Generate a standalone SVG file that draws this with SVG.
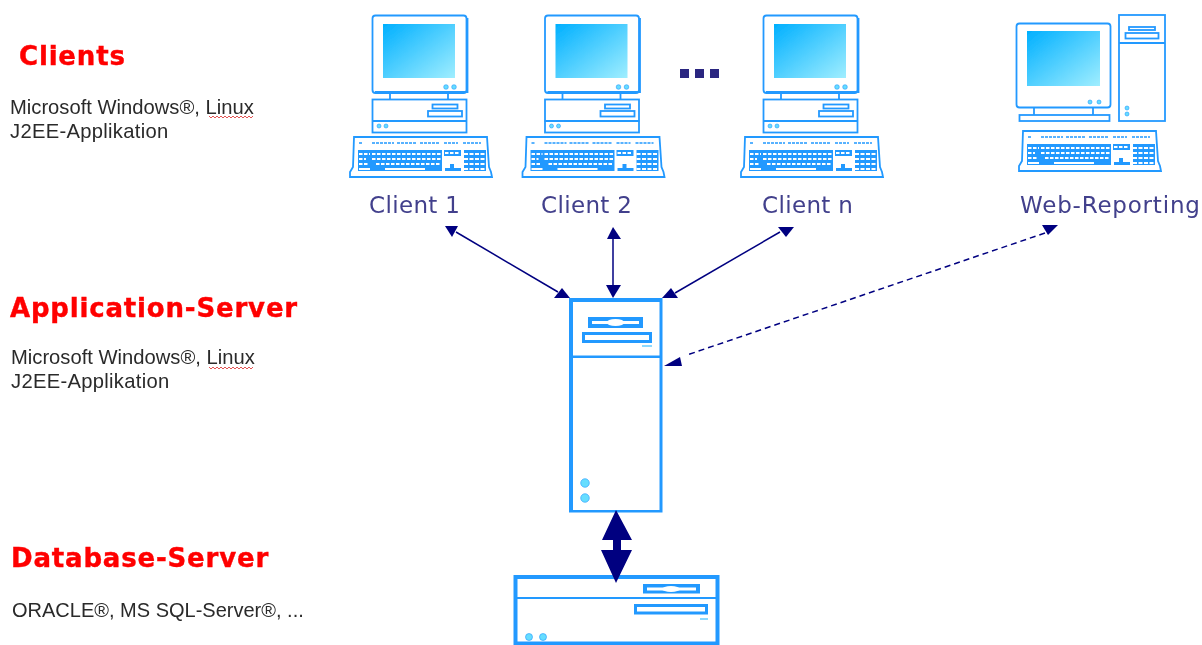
<svg xmlns="http://www.w3.org/2000/svg" xmlns:xlink="http://www.w3.org/1999/xlink" width="1202" height="645" viewBox="0 0 1202 645">
<style>
.b{fill:none;stroke:#2299ff;stroke-width:1.8}
.sb{fill:#2299ff}
.lt{fill:#66ddff;stroke:#2299ff;stroke-width:.6}
.k{stroke:#fff;stroke-width:2.2;fill:none}
.lbl{font-family:"DejaVu Sans",Verdana,sans-serif;font-size:23px;fill:#42408c;letter-spacing:.35px}
.h{font-family:"DejaVu Sans","Liberation Sans",sans-serif;font-weight:700;font-size:26px;fill:#ff0000;stroke:#ff0000;stroke-width:.4;letter-spacing:.82px}
.t{font-family:"Liberation Sans",Arial,sans-serif;font-size:20.200px;fill:#2a2a2a}
.j{letter-spacing:.3px}
.ar{fill:#000080}
.ln{stroke:#000080;stroke-width:1.500;fill:none}
.sq{fill:none;stroke:#e04040;stroke-width:.9}
</style>
<defs>
<linearGradient id="scr" x1="0" y1="0" x2="1" y2="1"><stop offset="0" stop-color="#00b0ff"/><stop offset="1" stop-color="#a0eeff"/></linearGradient>
<filter id="soft" x="-5%" y="-5%" width="110%" height="110%"><feGaussianBlur stdDeviation=".4"/></filter>
<filter id="tsoft" x="-5%" y="-20%" width="110%" height="140%"><feGaussianBlur stdDeviation=".35"/></filter>
<g id="kbd">
<path class="b" d="M354 137H487L489 167L491 172L492 177H350L350 172L353 167Z"/>
<path d="M359 143H362M372 143H394M397 143H417M420 143H440M444 143H458M463 143H481" stroke="#2299ff" stroke-width="1.500" stroke-dasharray="3 1" fill="none"/>
<rect class="sb" x="358" y="150" width="84" height="21"/>
<path class="k" d="M359 154H370M372 154H441" stroke-dasharray="3.500 1.500"/>
<path class="k" d="M359 159H366M372 159H441" stroke-dasharray="3.500 1.500"/>
<path class="k" d="M359 164H368M376 164H441" stroke-dasharray="3.500 1.500"/>
<path class="k" d="M359 169H370M385 169H425"/>
<rect class="sb" x="444" y="150" width="17" height="6"/>
<path class="k" d="M445 153H460" stroke-dasharray="3.500 1.500"/>
<path d="M450 164H454V168H461V171H445V168H450Z" class="sb"/>
<rect class="sb" x="464" y="150" width="22" height="21"/>
<path class="k" d="M464 154H486M464 159H486M464 164H486M464 169H486" stroke-dasharray="4 1.500"/>
</g>
<g id="pc">
<rect class="b" x="372.500" y="15.500" width="94" height="77.500" rx="3" stroke-width="2"/>
<path d="M467.500 18V92H375" class="b"/>
<rect x="383" y="24" width="72" height="54" fill="url(#scr)"/>
<circle class="lt" cx="446" cy="87" r="2.300"/><circle class="lt" cx="454" cy="87" r="2.300"/>
<path class="b" d="M390 93V99M448 93V99" stroke-width="2"/>
<rect class="b" x="372.500" y="99.500" width="94" height="33" stroke-width="2"/>
<path class="b" d="M372 121H467"/>
<rect class="b" x="432.500" y="104.500" width="25" height="4"/>
<rect class="b" x="428" y="111" width="34" height="5.500"/>
<circle class="lt" cx="379" cy="126" r="2"/><circle class="lt" cx="386" cy="126" r="2"/>
<use href="#kbd"/>
</g>
<path id="wave" class="sq" d="M0 0l2 2 2-2 2 2 2-2 2 2 2-2 2 2 2-2 2 2 2-2 2 2 2-2 2 2 2-2 2 2 2-2 2 2 2-2 2 2 2-2 2 2 2-2"/>
</defs>

<g id="client-1"><use href="#pc" filter="url(#soft)"/><text class="lbl" x="369" y="213" filter="url(#tsoft)">Client 1</text></g>
<g id="client-2"><use href="#pc" x="172.500" filter="url(#soft)"/><text class="lbl" x="541" y="213" filter="url(#tsoft)">Client 2</text></g>
<g id="client-n"><use href="#pc" x="391" filter="url(#soft)"/><text class="lbl" x="762" y="213" filter="url(#tsoft)">Client n</text></g>
<g id="ellipsis" fill="#2a2580" filter="url(#tsoft)"><rect x="680" y="69" width="9" height="9"/><rect x="695" y="69" width="9" height="9"/><rect x="710" y="69" width="9" height="9"/></g>

<g id="web-reporting">
<g filter="url(#soft)">
<rect class="b" x="1016.500" y="23.500" width="94" height="84" rx="3"/>
<rect x="1027" y="31" width="73" height="55" fill="url(#scr)"/>
<circle class="lt" cx="1090" cy="102" r="2"/><circle class="lt" cx="1099" cy="102" r="2"/>
<path class="b" d="M1034 108V115M1093 108V115"/>
<rect class="b" x="1019.500" y="115" width="90" height="6"/>
<rect class="b" x="1119" y="15" width="46" height="106"/>
<path class="b" d="M1119 43H1165"/>
<rect class="b" x="1129" y="27" width="26" height="3"/>
<rect class="b" x="1125.500" y="33" width="33" height="5.500"/>
<circle class="lt" cx="1127" cy="108" r="2"/><circle class="lt" cx="1127" cy="114" r="2"/>
<use href="#kbd" x="669" y="-6"/>
</g>
<text class="lbl" x="1020" y="213" filter="url(#tsoft)" style="letter-spacing:.8px">Web-Reporting</text>
</g>

<g id="application-server" filter="url(#soft)">
<rect x="569" y="298" width="93.500" height="214.500" class="sb"/>
<rect x="573" y="302" width="86.500" height="53.500" fill="#fff"/>
<rect x="573" y="358" width="86.500" height="152" fill="#fff"/>
<rect x="588" y="317" width="55" height="11" class="sb"/>
<path d="M592 322.500H639" stroke="#fff" stroke-width="3"/>
<ellipse cx="615.500" cy="322.500" rx="9" ry="3.500" fill="#fff"/>
<rect x="582" y="332" width="70" height="11" class="sb"/>
<rect x="585" y="335" width="64" height="5" fill="#fff"/>
<path d="M642 346H652" stroke="#66ccff" stroke-width="1.500"/>
<circle class="lt" cx="585" cy="483" r="4.300" stroke-width="1"/>
<circle class="lt" cx="585" cy="498" r="4.300" stroke-width="1"/>
</g>

<g id="database-server" filter="url(#soft)">
<rect x="515.500" y="577" width="202" height="66.500" fill="#fff" stroke="#2299ff" stroke-width="4"/>
<path d="M514 598H718" stroke="#2299ff" stroke-width="2"/>
<rect x="643" y="584" width="57" height="9.500" class="sb"/>
<path d="M647 589H696" stroke="#fff" stroke-width="3"/>
<ellipse cx="671" cy="589" rx="9" ry="3" fill="#fff"/>
<rect x="634" y="604" width="74" height="10.500" class="sb"/>
<rect x="637" y="607" width="68" height="4.500" fill="#fff"/>
<path d="M700 619H708" stroke="#66ccff" stroke-width="1.500"/>
<circle class="lt" cx="529" cy="637" r="3.500"/><circle class="lt" cx="543" cy="637" r="3.500"/>
</g>

<g id="connectors">
<path class="ln" d="M456 232L558 292"/>
<polygon class="ar" points="445,226 458,226 452,237"/><polygon class="ar" points="554,298 570,298 562,288"/>
<path class="ln" d="M613 235V290" stroke-width="2"/>
<polygon class="ar" points="613,227 607,239 621,239"/><polygon class="ar" points="606,285 621,285 613,298"/>
<path class="ln" d="M780 232L675 293"/>
<polygon class="ar" points="778,227 794,227 786,237"/><polygon class="ar" points="662,298 678,298 671,288"/>
<path class="ln" d="M1045 233L687 355" stroke-dasharray="6 4"/>
<polygon class="ar" points="1042,225 1058,225 1048,235"/><polygon class="ar" points="664,366 682,366 680,357"/>
<polygon class="ar" points="616,510 632,540 621,540 621,550 632,550 616,583 601,550 613,550 613,540 602,540"/>
</g>

<g id="legend">
<text class="h" x="19" y="65" filter="url(#tsoft)">Clients</text>
<text class="t" x="10" y="114" filter="url(#tsoft)">Microsoft Windows®, Linux</text>
<text class="t j" x="10" y="138" filter="url(#tsoft)">J2EE-Applikation</text>
<use href="#wave" x="209" y="116"/>
<text class="h" x="10" y="317" filter="url(#tsoft)">Application-Server</text>
<text class="t" x="11" y="364" filter="url(#tsoft)">Microsoft Windows®, Linux</text>
<text class="t j" x="11" y="388" filter="url(#tsoft)">J2EE-Applikation</text>
<use href="#wave" x="209" y="367"/>
<text class="h" x="11" y="567" filter="url(#tsoft)">Database-Server</text>
<text class="t" x="12" y="617" filter="url(#tsoft)" style="font-size:20px">ORACLE®, MS SQL-Server®, ...</text>
</g>
</svg>
